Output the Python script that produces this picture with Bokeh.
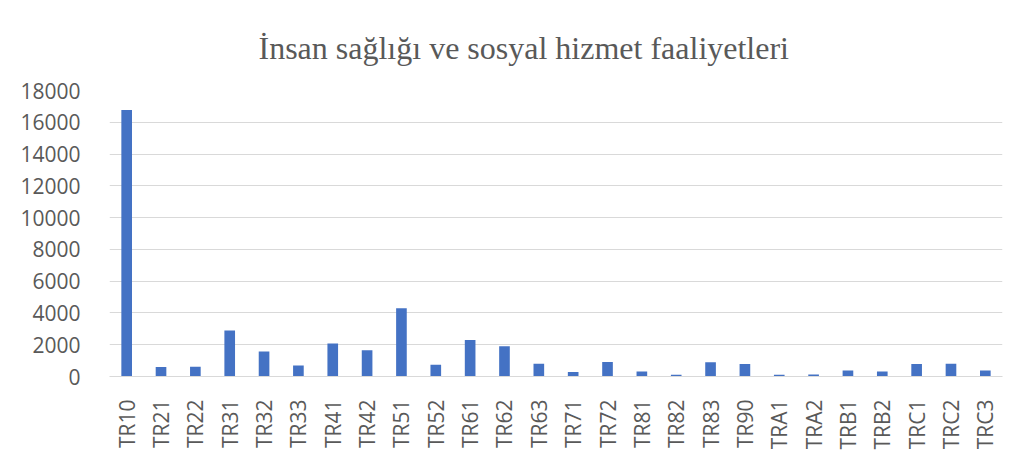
import math
from bokeh.plotting import figure
from bokeh.models import FactorRange, Range1d, ColumnDataSource, SingleIntervalTicker, Title
from bokeh.embed import file_html
from bokeh.resources import INLINE

regions = ["TR10", "TR21", "TR22", "TR31", "TR32", "TR33", "TR41", "TR42", "TR51",
           "TR52", "TR61", "TR62", "TR63", "TR71", "TR72", "TR81", "TR82", "TR83",
           "TR90", "TRA1", "TRA2", "TRB1", "TRB2", "TRC1", "TRC2", "TRC3"]
values = [16780, 600, 615, 2900, 1570, 700, 2080, 1650, 4300,
          740, 2290, 1910, 810, 280, 910, 320, 110, 890,
          790, 110, 130, 380, 320, 790, 810, 380]

title_text = "İnsan sağlığı ve sosyal hizmet faaliyetleri"

TEXT = "#595959"
GRID = "#D9D9D9"
BAR = "#4472C4"

src = ColumnDataSource(data=dict(x=regions, y=values))

p = figure(width=1023, height=460, output_backend="svg", toolbar_location=None,
           x_range=FactorRange(factors=regions), y_range=Range1d(0, 18000),
           min_border_left=109, min_border_right=21, min_border_top=90, min_border_bottom=84)
p.title = Title(text=title_text, text_font="Liberation Serif", text_font_size="32px",
                text_color=TEXT, text_font_style="normal", align="left", offset=149,
                vertical_align="bottom", standoff=50)

p.vbar(x="x", top="y", width=0.31, source=src, color=BAR, line_color=None)

p.outline_line_color = None
p.xgrid.grid_line_color = None
p.ygrid.grid_line_color = GRID
p.ygrid.grid_line_width = 1

p.yaxis.ticker = SingleIntervalTicker(interval=2000)
p.yaxis.axis_line_color = None
p.yaxis.major_tick_line_color = None
p.yaxis.minor_tick_line_color = None
p.yaxis.major_label_text_font = "Open Sans"
p.yaxis.major_label_text_font_size = "21px"
p.yaxis.major_label_text_color = TEXT
p.yaxis.major_label_standoff = 23

p.xaxis.axis_line_color = GRID
p.xaxis.major_tick_line_color = None
p.xaxis.minor_tick_line_color = None
p.xaxis.major_label_orientation = math.pi / 2
p.xaxis.major_label_text_font = "Open Sans"
p.xaxis.major_label_text_font_size = "21px"
p.xaxis.major_label_text_color = TEXT
p.xaxis.major_label_standoff = 17

p.background_fill_color = "white"
p.border_fill_color = "white"

open("out.html", "w").write(file_html(p, INLINE))
